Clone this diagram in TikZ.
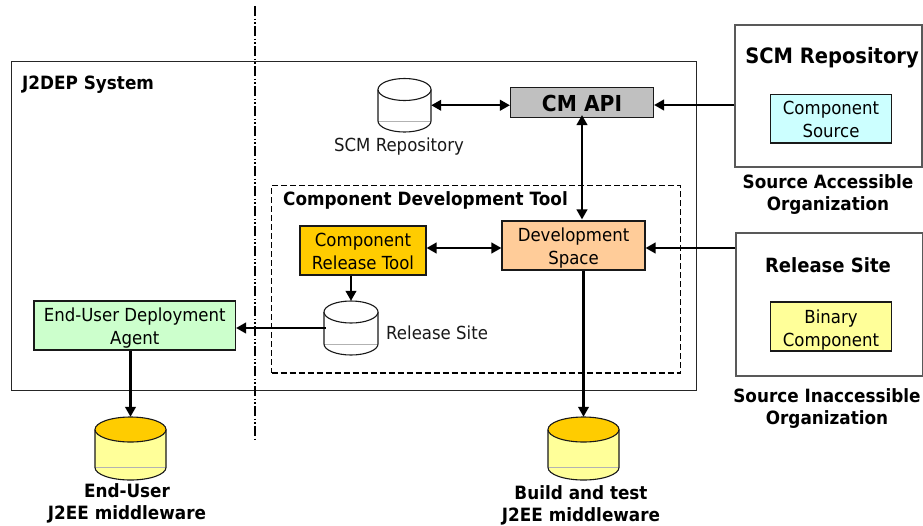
\documentclass[tikz,border=0pt]{standalone}
\usepackage{fontspec}
\setmainfont[FakeStretch=0.92]{DejaVu Sans}
\usetikzlibrary{arrows.meta,calc}
\definecolor{cyanfill}{HTML}{CCFFFF}
\definecolor{yellowfill}{HTML}{FFFF99}
\definecolor{goldfill}{HTML}{FFCC00}
\definecolor{orangefill}{HTML}{FFCC99}
\definecolor{greenfill}{HTML}{CCFFCC}
\definecolor{apigrey}{HTML}{C0C0C0}
\newcommand{\low}[1]{\rule{0pt}{#1}}
\tikzset{
  x=1pt,y=-1pt,
  boxstyle/.style={draw=black!90,line width=1.1pt,inner sep=0pt,align=center,font=\fontsize{18}{23}\selectfont},
  orgbox/.style={draw=black!65,line width=1.3pt,inner sep=0pt},
  plain/.style={inner sep=0pt,align=center,font=\fontsize{18}{23}\selectfont,text=black!90},
  boldtext/.style={inner sep=0pt,align=center,font=\fontsize{18.3}{22}\selectfont\bfseries},
  titletext/.style={inner sep=0pt,align=center,font=\fontsize{21.2}{24}\selectfont\bfseries},
  flow/.style={line width=2.4pt,-{Triangle[length=10pt,width=10.5pt]}},
  flowboth/.style={line width=2.4pt,{Triangle[length=10pt,width=10.5pt]}-{Triangle[length=10pt,width=10.5pt]}},
  region/.style={inner sep=0pt},
}
% name, left, top, right, bottom, ry, side fill, top fill
\newcommand{\dbcyl}[8]{%
  \path[fill=#7] (#2,#3+#6) -- (#4,#3+#6) -- (#4,#5-#6) arc[x radius={(#4-#2)/2},y radius=#6,start angle=0,end angle=180] -- cycle;
  \draw[line width=1pt,black!30] (#2,#5-#6) -- (#4,#5-#6);
  \draw[line width=1.1pt,black!90] (#2,#5-#6) -- (#2,#3+#6) (#4,#3+#6) -- (#4,#5-#6)
     (#4,#5-#6) arc[x radius={(#4-#2)/2},y radius=#6,start angle=0,end angle=180];
  \draw[line width=1.1pt,black!90,fill=#8] ({(#2+#4)/2},#3+#6) ellipse[x radius={(#4-#2)/2},y radius=#6];
  \node[region,minimum width={(#4-#2)*1pt},minimum height={(#5-#3)*1pt}] (#1) at ({(#2+#4)/2},{(#3+#5)/2}) {};%
}
\begin{document}
\begin{tikzpicture}
\useasboundingbox (0,0) rectangle (923,525);
% containers
\node[draw=black!85,line width=1pt,minimum width=685pt,minimum height=329pt,inner sep=0pt] (sys) at (353.5,225.5) {};
\node[boldtext,anchor=west] (systitle) at (22,85) {J2DEP System};
\draw[line width=2pt,dash pattern=on 10pt off 2.5pt on 1.5pt off 2pt on 1.5pt off 2.5pt] (254.5,6) coordinate (sepa) -- (254.5,442) coordinate (sepb);
\node[draw=black,line width=1.8pt,dash pattern=on 6pt off 3pt,minimum width=409pt,minimum height=187.5pt,inner sep=0pt] (cdt) at (476,279.25) {};
\node[boldtext,anchor=west] (cdttitle) at (283,200.5) {Component Development Tool};
% organisations
\node[orgbox,minimum width=187pt,minimum height=142pt] (scmorg) at (828.5,96) {};
\node[titletext] (scmtitle) at (832,58) {SCM Repository};
\node[boxstyle,fill=cyanfill,minimum width=121pt,minimum height=48.5pt] (src) at (831,118.75) {\low{15.7pt}Component\\Source};
\node[boldtext] (orga) at (828,194.5) {Source Accessible\\Organization};
\node[orgbox,minimum width=187pt,minimum height=143pt] (relorg) at (829.5,304.5) {};
\node[titletext,font=\fontsize{19.6}{24}\selectfont\bfseries] (reltitle) at (828,265) {Release Site};
\node[boxstyle,fill=yellowfill,minimum width=121pt,minimum height=49pt] (bin) at (831,326.5) {\low{20pt}Binary\\Component};
\node[boldtext] (orgb) at (827,409) {Source Inaccessible\\Organization};
% components
\node[boxstyle,fill=apigrey,minimum width=143pt,minimum height=30pt,font=\fontsize{22}{24}\selectfont\bfseries] (api) at (582,102.5) {\low{18pt}CM API};
\node[boxstyle,fill=goldfill,minimum width=126pt,minimum height=49pt] (crt) at (363,250.5) {\low{15.7pt}Component\\Release Tool};
\node[boxstyle,fill=orangefill,minimum width=143pt,minimum height=49pt] (dev) at (573.5,245.5) {\low{19.7pt}Development\\Space};
\node[boxstyle,fill=greenfill,minimum width=201.5pt,minimum height=49pt] (agent) at (134.75,325.5) {\low{19.7pt}End-User Deployment\\Agent};
% cylinders
\dbcyl{scmdb}{378}{78.5}{431}{132}{11}{white}{white}
\node[plain] (scmdblabel) at (399,147) {SCM Repository};
\dbcyl{reldb}{324}{301}{378}{355}{11}{white}{white}
\node[plain,anchor=west] (reldblabel) at (386,333) {Release Site};
\dbcyl{eudb}{95}{417}{166}{480}{12.5}{yellowfill}{goldfill}
\node[boldtext] (eulabel) at (127,503) {End-User\\J2EE middleware};
\dbcyl{btdb}{548}{417}{619}{480}{12.5}{yellowfill}{goldfill}
\node[boldtext] (btlabel) at (581,505.5) {Build and test\\J2EE middleware};
% connectors
\draw[flowboth] (scmdb.east) -- (scmdb.east -| api.west);
\draw[flow] ([yshift=-2.5pt]api.east -| scmorg.west) -- ([yshift=-2.5pt]api.east);
\draw[flowboth] ([yshift=3pt]api.south) -- ([yshift=1pt]dev.north -| api.south);
\draw[flowboth] ([yshift=2.5pt]crt.east) -- ([yshift=2.5pt]crt.east -| dev.west);
\draw[flow] ([yshift=-2.5pt]dev.east -| relorg.west) -- ([yshift=-2.5pt]dev.east);
\draw[flow] (crt.south -| reldb.north) -- (reldb.north);
\draw[flow] ([xshift=2pt]reldb.west) -- (reldb.west -| agent.east);
\draw[flow] (agent.south -| eudb.north) -- (eudb.north);
\draw[flow] (dev.south -| btdb.north) -- (btdb.north);
\end{tikzpicture}
\end{document}
